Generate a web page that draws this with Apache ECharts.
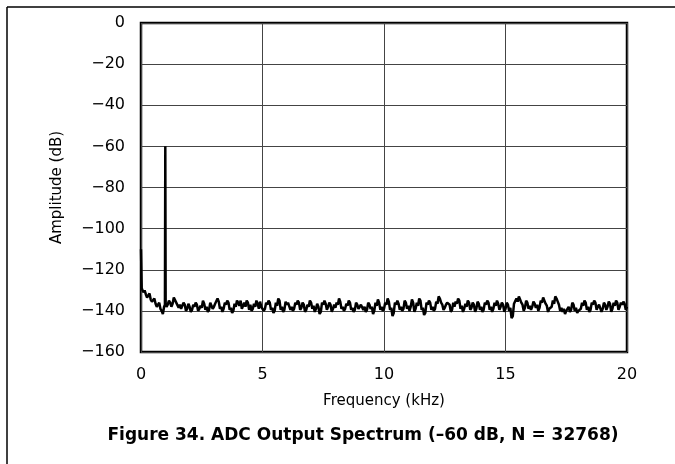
<!DOCTYPE html>
<html>
<head>
<meta charset="utf-8" />
<title>ADC Output Spectrum</title>
<style>
  html, body { margin: 0; padding: 0; background: #fff; }
  #main { width: 675px; height: 464px; }
</style>
</head>
<body>
<div id="main"></div>
<script src="https://cdn.jsdelivr.net/npm/echarts@6/dist/echarts.min.js"></script>
<script>
// tick labels
const xTicks = [0, 5, 10, 15, 20];
const yTicks = [0, -20, -40, -60, -80, -100, -120, -140, -160];

// low end of the spectrum: DC leakage, decay, and the -60 dB tone at 1 kHz
const lowEndKHz = [0, 0.03, 0.1, 0.15, 0.2, 0.25, 0.3, 0.35, 0.4, 0.45, 0.5, 0.55, 0.6, 0.65, 0.7, 0.75, 0.8, 0.85, 0.9, 0.95, 0.985, 1.0, 1.015, 1.05];
const lowEndDb = [-110, -129, -131, -130, -132, -133.5, -132.5, -131.5, -134.5, -135.5, -135, -134, -136.5, -138, -137, -136, -139, -140, -141.5, -138, -137, -60, -137, -138];

// noise floor from 1.1 kHz to 20.0 kHz, one reading every 0.1 kHz
const floorStartKHz = 1.1;
const floorStepKHz = 0.1;
const floorDb = [
  -137, -136, -136.5, -134, -135.5, -137, -138.5, -137, -139, -138,
  -139.5, -138, -137, -139, -138.5, -136.5, -138, -139.5, -137.5, -138,
  -137, -135.5, -138, -139, -137, -136, -138.5, -140, -138, -136,
  -135, -137.5, -138, -136, -137, -139, -138, -136.5, -135.5, -138,
  -139, -137, -136, -138.5, -140, -137.5, -135, -138, -139.5, -137,
  -136.5, -138, -139, -137, -136, -138.5, -137, -139.5, -138, -136,
  -137.5, -139, -138, -140.5, -137, -136.5, -138, -137, -139, -138.5,
  -137, -135.5, -138, -139, -137.5, -136, -138.5, -139.5, -137, -138,
  -136.5, -138, -139.5, -137, -138, -140, -137.5, -136, -138, -139,
  -137, -135.5, -138.5, -141, -137, -136.5, -138, -139, -136, -137.5,
  -138, -136, -139, -137.5, -135, -138.5, -141, -137, -136, -138,
  -139, -136.5, -134, -137, -138.5, -136, -137, -139.5, -138, -136.5,
  -135, -137.5, -139, -138, -136, -138.5, -137, -139, -136.5, -138,
  -139.5, -137, -136, -138, -139, -137.5, -136.5, -138, -137, -139,
  -137, -138.5, -142.5, -137, -135.5, -134.5, -137, -138.5, -136, -137.5,
  -138, -136.5, -137, -138.5, -136, -135, -137.5, -139, -138, -136.5,
  -134, -137, -138.5, -139, -140, -138, -139.5, -137, -138.5, -140,
  -139, -137.5, -136, -138, -139.5, -137, -136, -138, -137.5, -139,
  -137, -138, -136.5, -139, -137.5, -136, -138, -137, -136.5, -138
];

// readings halfway between the floor readings above (1.15 kHz ... 19.95 kHz)
const floorMidDb = [
  -135, -138, -133.5, -136, -138.5, -139, -136, -140, -136.5, -140.5,
  -137, -136, -140, -137.5, -135, -139.5, -140.5, -136, -139, -136.5,
  -134, -139, -140.5, -136, -135, -139.5, -141, -136.5, -135, -137.5,
  -139, -136, -135, -139.5, -140, -136.5, -135, -139, -138, -140,
  -136, -135, -139.5, -141, -136, -134, -139.5, -140.5, -135.5, -136,
  -139.5, -140, -136, -135, -139.5, -136, -140.5, -137, -135, -139,
  -140.5, -136.5, -141.5, -136, -135, -139.5, -136, -140.5, -137, -136,
  -134, -139, -140, -136.5, -135, -139.5, -140.5, -136, -139, -137,
  -139.5, -140.5, -136, -139, -141.5, -136, -134.5, -139.5, -140, -136,
  -134, -139.5, -142.5, -136, -135, -139.5, -140, -135, -139, -140,
  -134.5, -140.5, -136, -134, -139.5, -142, -136, -135, -139.5, -140,
  -135.5, -133, -136, -139.5, -137, -135.5, -140.5, -136, -135.5, -134,
  -139, -140.5, -136.5, -135, -139.5, -136, -140.5, -135.5, -139.5, -140.5,
  -136, -135, -139.5, -140.5, -136, -135, -139.5, -136, -140.5, -136,
  -140, -143.5, -136.5, -134, -133, -136, -140, -135, -139, -139.5,
  -135.5, -138.5, -140, -135, -133.5, -136.5, -140.5, -139.5, -135, -133,
  -135.5, -140, -140.5, -141.5, -139, -140.5, -136, -140, -141, -140.5,
  -136, -135, -139.5, -140.5, -136, -135, -139.5, -137, -140.5, -136,
  -139.5, -135.5, -140.5, -136, -135, -139.5, -136, -135.5, -139.5
];

const points = lowEndKHz.map((f, i) => [f, lowEndDb[i]]);
floorDb.forEach((v, i) => {
  const f = floorStartKHz + i * floorStepKHz;
  points.push([+f.toFixed(2), v]);
  if (i < floorMidDb.length) {
    points.push([+(f + floorStepKHz / 2).toFixed(2), floorMidDb[i]]);
  }
});

const font = '"DejaVu Sans", Verdana, sans-serif';
const chart = echarts.init(document.getElementById('main'));

chart.setOption({
  animation: false,
  backgroundColor: '#fff',
  title: {
    text: 'Figure 34. ADC Output Spectrum (\u201360 dB, N = 32768)',
    left: 358,
    top: 422,
    textAlign: 'center',
    textStyle: { fontFamily: font, fontSize: 17, fontWeight: 'bold', color: '#000' }
  },
  graphic: [
    { type: 'line', shape: { x1: 7, y1: 7, x2: 675, y2: 7 }, style: { stroke: '#000', lineWidth: 1.5 } },
    { type: 'line', shape: { x1: 7, y1: 7, x2: 7, y2: 464 }, style: { stroke: '#000', lineWidth: 1.5 } }
  ],
  grid: {
    left: 141, top: 23, right: 48, bottom: 112,
    show: true, borderColor: '#000', borderWidth: 2.5, backgroundColor: 'transparent'
  },
  xAxis: {
    type: 'value',
    min: xTicks[0],
    max: xTicks[xTicks.length - 1],
    interval: 5,
    name: 'Frequency (kHz)',
    nameLocation: 'middle',
    nameGap: 42,
    nameTextStyle: { fontFamily: font, fontSize: 15, color: '#000' },
    axisLine: { show: false },
    axisTick: { show: false },
    axisLabel: { fontFamily: font, fontSize: 16, color: '#000', margin: 15 },
    splitLine: { lineStyle: { color: '#444', width: 1 } }
  },
  yAxis: {
    type: 'value',
    min: yTicks[yTicks.length - 1],
    max: yTicks[0],
    interval: 20,
    name: 'Amplitude (dB)',
    nameLocation: 'middle',
    nameGap: 76,
    nameTextStyle: { fontFamily: font, fontSize: 15, color: '#000' },
    axisLine: { show: false },
    axisTick: { show: false },
    axisLabel: {
      fontFamily: font, fontSize: 16, color: '#000', margin: 16,
      formatter: v => (v < 0 ? '\u2212' + Math.abs(v) : String(v))
    },
    splitLine: { lineStyle: { color: '#444', width: 1 } }
  },
  series: [{
    type: 'line',
    data: points,
    showSymbol: false,
    lineStyle: { color: '#000', width: 2.5 },
    z: 3
  }]
});
</script>
</body>
</html>
